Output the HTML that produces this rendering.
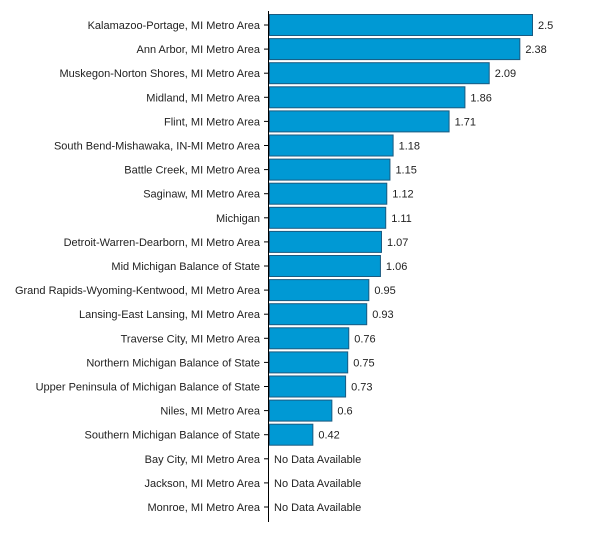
<!DOCTYPE html>
<html><head><style>body{margin:0;background:#fff}</style></head><body>
<svg width="600" height="540" xmlns="http://www.w3.org/2000/svg" font-family="Liberation Sans, sans-serif" font-size="11" fill="#222">
<line x1="268.5" y1="11" x2="268.5" y2="522" stroke="#000"/>
<g id="g"></g>
</svg>
<script>
const d=[["Kalamazoo-Portage, MI Metro Area",2.5],["Ann Arbor, MI Metro Area",2.38],["Muskegon-Norton Shores, MI Metro Area",2.09],["Midland, MI Metro Area",1.86],["Flint, MI Metro Area",1.71],["South Bend-Mishawaka, IN-MI Metro Area",1.18],["Battle Creek, MI Metro Area",1.15],["Saginaw, MI Metro Area",1.12],["Michigan",1.11],["Detroit-Warren-Dearborn, MI Metro Area",1.07],["Mid Michigan Balance of State",1.06],["Grand Rapids-Wyoming-Kentwood, MI Metro Area",0.95],["Lansing-East Lansing, MI Metro Area",0.93],["Traverse City, MI Metro Area",0.76],["Northern Michigan Balance of State",0.75],["Upper Peninsula of Michigan Balance of State",0.73],["Niles, MI Metro Area",0.6],["Southern Michigan Balance of State",0.42],["Bay City, MI Metro Area",null],["Jackson, MI Metro Area",null],["Monroe, MI Metro Area",null]];
let s="";
d.forEach((r,i)=>{const c=25+i*24.1;
s+=`<text x="260" y="${c+4}" text-anchor="end">${r[0]}</text><line x1="264" x2="268" y1="${c}" y2="${c}" stroke="#000"/>`;
if(r[1]!=null){const w=r[1]*105.6;
s+=`<rect x="269.5" y="${c-10.5}" width="${w-1}" height="21" fill="#0099d4" stroke="#1a5a80"/><text x="${274+w}" y="${c+4}">${r[1]}</text>`;}
else s+=`<text x="274" y="${c+4}">No Data Available</text>`;});
document.getElementById("g").innerHTML=s;
</script>
</body></html>
